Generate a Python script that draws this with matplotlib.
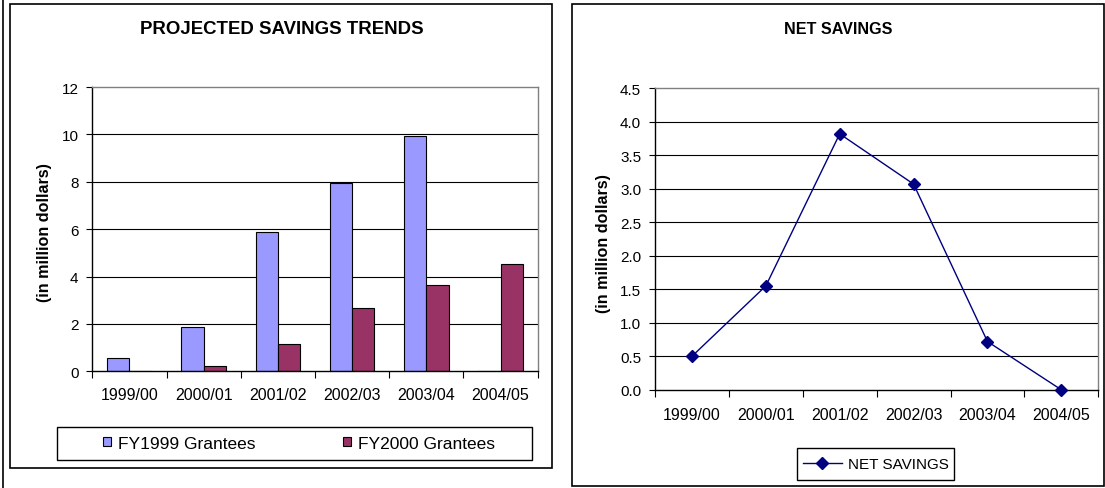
import numpy as np
import matplotlib
matplotlib.use("Agg")
import matplotlib.pyplot as plt
from matplotlib.patches import Rectangle, Patch
from matplotlib.lines import Line2D

plt.rcParams['font.family'] = ['Liberation Sans', 'DejaVu Sans']

# data
periods = ['1999/00', '2000/01', '2001/02', '2002/03', '2003/04', '2004/05']
fy1999_grantees = [0.55, 1.85, 5.9, 7.93, 9.92, 0.0]
fy2000_grantees = [0.0, 0.23, 1.17, 2.69, 3.63, 4.55]
net_savings = [0.5, 1.55, 3.82, 3.07, 0.72, 0.0]
bar_ticks = [0, 2, 4, 6, 8, 10, 12]
line_ticks = [0.0, 0.5, 1.0, 1.5, 2.0, 2.5, 3.0, 3.5, 4.0, 4.5]

W, H = 1105, 489
fig = plt.figure(figsize=(W / 100, H / 100), dpi=100)


def px_axes(l, t, r, b):
    return fig.add_axes([l / W, 1 - b / H, (r - l) / W, (b - t) / H])


def px_rect(l, t, r, b, lw=1.2):
    fig.add_artist(Rectangle((l / W, 1 - b / H), (r - l) / W, (b - t) / H,
                             transform=fig.transFigure, fill=False,
                             edgecolor='black', linewidth=lw))


def style_axes(ax, n, ticks, fmt, pad_x):
    ax.set_xlim(-0.5, n - 0.5)
    ax.set_ylim(ticks[0], ticks[-1])
    ax.set_yticks(ticks)
    ax.set_yticklabels([fmt.format(t) for t in ticks], fontsize=11)
    ax.tick_params(axis='y', direction='out', length=4, width=0.8, pad=6)
    # tick marks on category boundaries, labels in the middle
    ax.set_xticks(np.arange(n + 1) - 0.5)
    ax.set_xticklabels([])
    ax.tick_params(axis='x', which='major', direction='out', length=5, width=0.8)
    ax.set_xticks(np.arange(n), minor=True)
    ax.set_xticklabels(periods, minor=True, fontsize=11.5)
    ax.tick_params(axis='x', which='minor', length=0, pad=pad_x)
    for t in ticks[1:-1]:
        ax.axhline(t, color='black', linewidth=0.8, zorder=0)
    for s in ['top', 'right']:
        ax.spines[s].set_color('#808080')
        ax.spines[s].set_linewidth(1.0)
    for s in ['left', 'bottom']:
        ax.spines[s].set_color('black')
        ax.spines[s].set_linewidth(1.0)


# page edge line and chart frames
fig.add_artist(Line2D([3 / W, 3 / W], [0, 1], transform=fig.transFigure,
                      color='black', linewidth=1.2))
px_rect(10, 5, 552, 469)
px_rect(572, 5, 1104, 487)

# left chart: projected savings trends
ax1 = px_axes(92.3, 88, 537.7, 372.3)
x = np.arange(len(periods))
ax1.bar(x - 0.15, fy1999_grantees, width=0.3, color='#9999FF',
        edgecolor='black', linewidth=0.8, zorder=2)
ax1.bar(x + 0.15, fy2000_grantees, width=0.3, color='#993366',
        edgecolor='black', linewidth=0.8, zorder=2)
style_axes(ax1, len(periods), bar_ticks, '{:g}', 11.5)
fig.text(282 / W, 1 - 29.5 / H, 'PROJECTED SAVINGS TRENDS', ha='center',
         va='center', fontsize=13.4, fontweight='bold')
fig.text(45 / W, 1 - 232.5 / H, '(in million dollars)', rotation=90,
         ha='center', va='center', fontsize=11.6, fontweight='bold')

px_rect(57, 428, 532, 461, lw=1.0)
handles = [Patch(facecolor='#9999FF', edgecolor='black', linewidth=0.8),
           Patch(facecolor='#993366', edgecolor='black', linewidth=0.8)]
fig.legend(handles, ['FY1999 Grantees', 'FY2000 Grantees'], ncol=2,
           mode='expand', frameon=False, fontsize=12.5,
           bbox_to_anchor=(103 / W, 1 - 461 / H, (495 - 103) / W, 33 / H),
           loc='center', borderaxespad=0, borderpad=0,
           handlelength=0.45, handleheight=0.45, handletextpad=0.4)

# right chart: net savings
ax2 = px_axes(655, 89.3, 1098.3, 390.8)
ax2.plot(x, net_savings, color='#000080', linewidth=1.0, marker='D',
         markersize=6, markerfacecolor='#000080', markeredgecolor='#000080',
         zorder=3, clip_on=False)
style_axes(ax2, len(periods), line_ticks, '{:.1f}', 12.5)
fig.text(838 / W, 1 - 29.5 / H, 'NET SAVINGS', ha='center', va='center',
         fontsize=11.6, fontweight='bold')
fig.text(603.5 / W, 1 - 243.3 / H, '(in million dollars)', rotation=90,
         ha='center', va='center', fontsize=11.6, fontweight='bold')

px_rect(796.7, 449, 953.7, 481, lw=1.0)
line_handle = Line2D([], [], color='#000080', linewidth=1.0, marker='D',
                     markersize=6, markerfacecolor='#000080')
fig.legend([line_handle], ['NET SAVINGS'], frameon=False, fontsize=11,
           bbox_to_anchor=(801 / W, 1 - 481 / H, (950 - 801) / W, 32 / H),
           loc='center', borderaxespad=0, borderpad=0,
           handlelength=2.6, handletextpad=0.35)

fig.savefig('out.png', dpi=100)
